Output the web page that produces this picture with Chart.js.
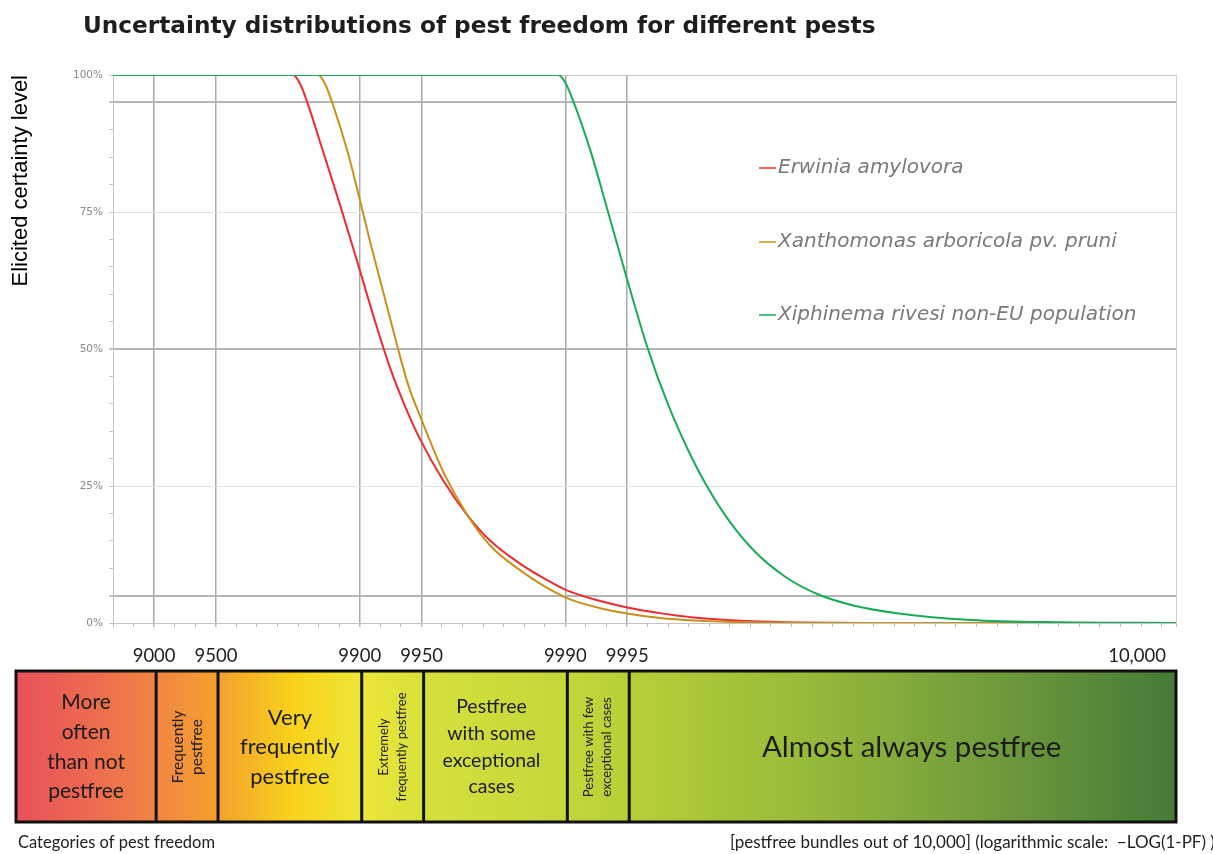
<!DOCTYPE html>
<html><head><meta charset="utf-8">
<script src="https://cdn.jsdelivr.net/npm/chart.js@4/dist/chart.umd.min.js"></script>
<style>html,body{margin:0;padding:0;background:#fff}canvas{display:block}</style>
</head><body>
<canvas id="c" width="1213" height="854"></canvas>
<script>
// ---------- data ----------
const chartTitle = 'Uncertainty distributions of pest freedom for different pests';
const yAxisTitle = 'Elicited certainty level';
const seriesNames = ['Erwinia amylovora', 'Xanthomonas arboricola pv. pruni', 'Xiphinema rivesi non-EU population'];
const seriesColors = ['#ef2b30', '#c8911c', '#17ad57'];

// x values are on the logarithmic scale -LOG10(1-PF); y values are certainty in %
const erwiniaX = [0.8, 1.676, 1.711, 1.745, 1.822, 1.905, 1.993, 2.075, 2.148, 2.221, 2.294, 2.406, 2.523, 2.635, 2.781, 2.903, 3.005, 3.170, 3.307, 3.462, 3.623, 3.827, 4.071, 4.630, 5.97];
const erwiniaY = [100, 100, 98.3, 95.0, 86.0, 76.2, 65.3, 55.0, 46.5, 39.5, 33.5, 26.0, 19.7, 15.0, 10.8, 8.0, 6.0, 4.0, 2.8, 1.8, 1.0, 0.45, 0.15, 0.02, 0];
const xanthoX = [0.8, 1.798, 1.832, 1.866, 1.944, 1.998, 2.051, 2.110, 2.183, 2.236, 2.294, 2.406, 2.523, 2.635, 2.781, 2.903, 3.024, 3.170, 3.307, 3.462, 3.623, 3.949, 4.630, 5.97];
const xanthoY = [100, 100, 98.3, 95.0, 85.6, 77.6, 69.5, 61.0, 50.5, 43.4, 37.7, 27.6, 19.7, 14.1, 9.6, 6.6, 4.3, 2.7, 1.7, 0.9, 0.45, 0.1, 0.01, 0];
const xiphX = [0.8, 2.966, 3.000, 3.039, 3.122, 3.204, 3.302, 3.399, 3.496, 3.594, 3.691, 3.803, 3.925, 4.071, 4.231, 4.411, 4.611, 4.971, 5.423, 5.97];
const xiphY = [100, 100, 98.6, 95.2, 86.2, 75.5, 62.5, 50.3, 40.2, 31.8, 24.8, 18.3, 12.9, 8.4, 5.2, 3.1, 1.8, 0.55, 0.12, 0];

const tickBundles = [9000, 9500, 9900, 9950, 9990, 9995];
const tickLabels = ['9000', '9500', '9900', '9950', '9990', '9995'];
const endTickLabel = '10,000';
const yLabelEvery = 25;

const categoryNames = [
  ['More', 'often', 'than not', 'pestfree'],
  ['Frequently', 'pestfree'],
  ['Very', 'frequently', 'pestfree'],
  ['Extremely', 'frequently pestfree'],
  ['Pestfree', 'with some', 'exceptional', 'cases'],
  ['Pestfree with few', 'exceptional cases'],
  ['Almost always pestfree']
];
const footLeft = 'Categories of pest freedom';
const footRight = '[pestfree bundles out of 10,000] (logarithmic scale:  \u2212LOG(1-PF) )';

// ---------- helpers ----------
const toLog = b => -Math.log10(1 - b / 10000);
const majorVals = tickBundles.map(toLog);
const majorIndex = v => majorVals.findIndex(m => Math.abs(m - v) < 1e-6);
const pts = (xs, ys) => xs.map((x, i) => ({x, y: ys[i]}));

// ---------- styles ----------
const catStyle = [
  {size: 21, lh: 29.7, vertical: false, dx: 0},
  {size: 15.5, lh: 19, vertical: true, dx: 0},
  {size: 22, lh: 29.5, vertical: false, dx: 0},
  {size: 13, lh: 18, vertical: true, dx: 0},
  {size: 19.5, lh: 26.7, vertical: false, dx: -4},
  {size: 13, lh: 18, vertical: true, dx: 0},
  {size: 29.5, lh: 30, vertical: false, dx: 9}
];

const decor = {
  id: 'decor',
  afterDraw(chart) {
    const ctx = chart.ctx, xs = chart.scales.x, area = chart.chartArea;
    ctx.save();
    // title
    ctx.fillStyle = '#1e1e1e';
    ctx.font = 'bold 23.2px "DejaVu Sans"';
    ctx.textAlign = 'left';
    ctx.textBaseline = 'alphabetic';
    ctx.fillText(chartTitle, 83, 33);

    // in-plot legend
    const legY = [168, 242, 315];
    chart.data.datasets.forEach((ds, i) => {
      ctx.strokeStyle = ds.borderColor;
      ctx.lineWidth = 1.5;
      ctx.beginPath();
      ctx.moveTo(759, legY[i]); ctx.lineTo(776, legY[i]); ctx.stroke();
      ctx.fillStyle = '#7a7a7a';
      ctx.font = 'italic 20px "DejaVu Sans"';
      ctx.textBaseline = 'middle';
      ctx.fillText(ds.label, 778, legY[i]);
    });

    // end tick label
    ctx.fillStyle = '#222';
    ctx.font = '18.5px Lato';
    ctx.textAlign = 'right';
    ctx.textBaseline = 'middle';
    ctx.fillText(endTickLabel, area.right - 10, 656);

    // category band
    const top = 671, bot = 822, left = 16;
    const edges = [left, ...majorVals.map(v => xs.getPixelForValue(v) + 2), area.right];
    const W = area.right - left;
    const g = ctx.createLinearGradient(left, 0, area.right, 0);
    const stops = [[16, '#e9505c'], [90, '#ec6a4f'], [158, '#f08642'], [218, '#f4a12d'], [295, '#f8d31b'], [362, '#ede638'], [424, '#d6e03b'], [566, '#c3d73a'], [628, '#b7cf37'], [800, '#99bb3a'], [1000, '#6f9a3c'], [1176, '#447a38']];
    stops.forEach(([p, c]) => g.addColorStop(Math.min(1, Math.max(0, (p - left) / W)), c));
    ctx.fillStyle = g;
    ctx.fillRect(left, top, W, bot - top);
    ctx.strokeStyle = '#111';
    ctx.lineWidth = 3;
    ctx.strokeRect(left, top, W, bot - top);
    for (let i = 1; i < edges.length - 1; i++) {
      ctx.beginPath(); ctx.moveTo(edges[i], top); ctx.lineTo(edges[i], bot); ctx.stroke();
    }
    const cy = 747;
    ctx.fillStyle = '#1c1c1c';
    ctx.textAlign = 'center';
    ctx.textBaseline = 'middle';
    categoryNames.forEach((lines, i) => {
      const st = catStyle[i];
      const cx = (edges[i] + edges[i + 1]) / 2 + st.dx;
      ctx.font = st.size + 'px Lato';
      const n = lines.length;
      if (st.vertical) {
        ctx.save();
        ctx.translate(cx, cy);
        ctx.rotate(-Math.PI / 2);
        lines.forEach((t, k) => ctx.fillText(t, 0, (k - (n - 1) / 2) * st.lh));
        ctx.restore();
      } else {
        lines.forEach((t, k) => ctx.fillText(t, cx, cy + (k - (n - 1) / 2) * st.lh));
      }
    });

    // footers
    ctx.fillStyle = '#222';
    ctx.font = '16.5px Lato';
    ctx.textAlign = 'left';
    ctx.fillText(footLeft, 18, 843);
    ctx.font = '17px Lato';
    ctx.fillText(footRight, 730, 843);
    ctx.restore();
  }
};

new Chart(document.getElementById('c'), {
  type: 'line',
  data: {
    datasets: [
      {label: seriesNames[0], data: pts(erwiniaX, erwiniaY), borderColor: seriesColors[0], order: 2},
      {label: seriesNames[1], data: pts(xanthoX, xanthoY), borderColor: seriesColors[1], order: 1},
      {label: seriesNames[2], data: pts(xiphX, xiphY), borderColor: seriesColors[2], order: 0}
    ]
  },
  options: {
    responsive: false,
    animation: false,
    devicePixelRatio: 1,
    layout: {padding: {top: 75, right: 37, left: 0, bottom: 0}},
    plugins: {legend: {display: false}, title: {display: false}, tooltip: {enabled: false}},
    elements: {point: {radius: 0}, line: {borderWidth: 2, cubicInterpolationMode: 'monotone', fill: false}},
    scales: {
      x: {
        type: 'linear', min: 0.8, max: 5.97,
        afterFit: s => { s.height = 231; },
        afterBuildTicks: s => {
          const t = [];
          for (let i = 8; i <= 59; i++) {
            const v = i / 10;
            if (!majorVals.some(m => Math.abs(m - v) < 0.05)) t.push({value: v});
          }
          majorVals.forEach(m => t.push({value: m}));
          t.push({value: s.max});
          t.sort((a, b) => a.value - b.value);
          s.ticks = t;
        },
        ticks: {
          autoSkip: false, maxRotation: 0, minRotation: 0, padding: 18,
          font: {family: 'Lato', size: 18.5}, color: '#222',
          callback: (v) => { const k = majorIndex(v); return k >= 0 ? tickLabels[k] : ''; }
        },
        grid: {
          color: c => (c.tick && majorIndex(c.tick.value) >= 0) ? '#a9a9a9' : (c.tick && Math.abs(c.tick.value - 5.97) < 1e-6 ? '#cfcfcf' : 'rgba(0,0,0,0)'),
          lineWidth: c => (c.tick && majorIndex(c.tick.value) >= 0) ? 1.5 : 1,
          tickColor: '#bdbdbd', tickLength: 4, drawTicks: true
        },
        border: {color: '#c4c4c4', width: 1}
      },
      y: {
        min: 0, max: 100,
        afterFit: s => { s.width = 113; },
        ticks: {
          stepSize: 5, autoSkip: false, padding: 6,
          font: {family: 'DejaVu Sans', size: 10.5}, color: '#8a8a8a',
          callback: v => (v % yLabelEvery === 0 ? v + '%' : '')
        },
        grid: {
          color: c => {
            const v = c.tick ? c.tick.value : -1;
            if (v === 5 || v === 50 || v === 95) return '#b5b5b5';
            if (v === 25 || v === 75) return '#e3e3e3';
            if (v === 100) return '#c4c4c4';
            return 'rgba(0,0,0,0)';
          },
          lineWidth: c => { const v = c.tick ? c.tick.value : -1; return (v === 5 || v === 50 || v === 95) ? 2 : 1; },
          tickColor: '#c4c4c4', tickLength: 4
        },
        border: {color: '#c4c4c4', width: 1},
        title: {display: true, text: yAxisTitle, align: 'end', color: '#000', font: {family: 'Liberation Sans', size: 22}, padding: {top: 8, bottom: 0}}
      }
    }
  },
  plugins: [decor]
});
</script>
</body></html>
